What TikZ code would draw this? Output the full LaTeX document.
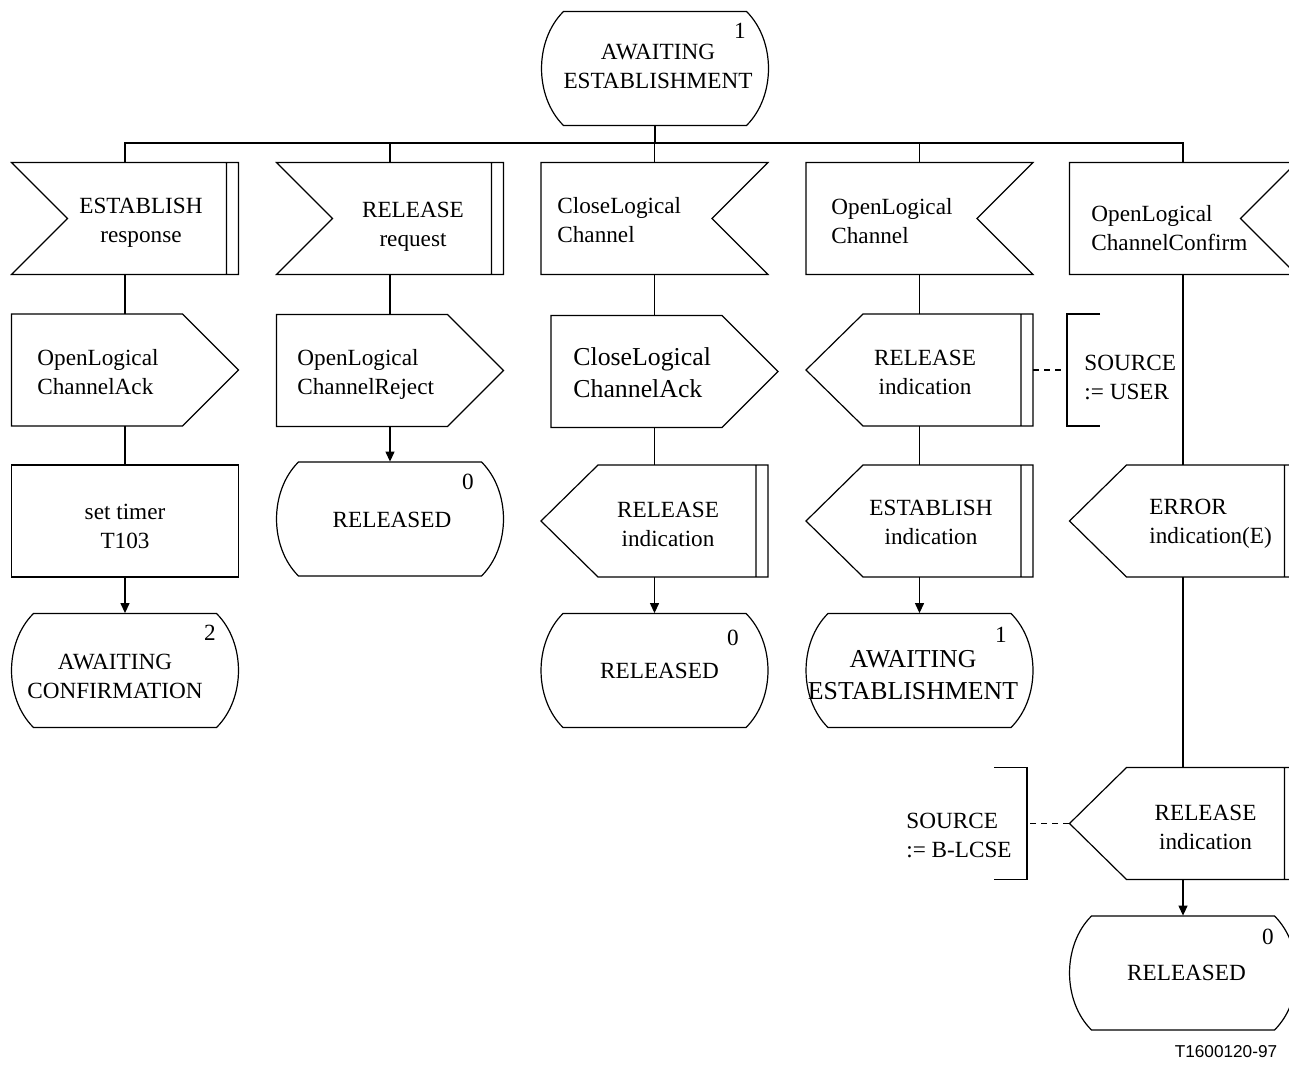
\documentclass[tikz,border=0pt]{standalone}
\usepackage{fontspec}
\setmainfont{Liberation Serif}
\newfontfamily\codefont{Liberation Sans}
\usepackage{tikz}
\usetikzlibrary{arrows.meta}

\begin{document}
\begin{tikzpicture}[x=0.5pt, y=-0.5pt,
        sdlline/.style={line width=0.6pt},
        symbol/.style={
            rectangle,
            inner sep=0pt,
            minimum width=113.5pt,
            minimum height=56pt
        },
        sdlstate/.style={symbol, minimum height=57pt,
            append after command={\pgfextra{
                \draw[sdlline, shift={(\tikzlastnode.center)}]
                    (-91.5,-57) -- (91.5,-57)
                    .. controls (120.8,-28) and (120.8,28) .. (91.5,57)
                    -- (-91.5,57)
                    .. controls (-120.8,28) and (-120.8,-28) .. (-91.5,-57) -- cycle;}}},
        inleft/.style={symbol,
            append after command={\pgfextra{
                \draw[sdlline, shift={(\tikzlastnode.center)}]
                    (-113.5,-56) -- (113.5,-56) -- (113.5,56) -- (-113.5,56)
                    -- (-57.5,0) -- cycle
                    (101.5,-56) -- (101.5,56);}}},
        inright/.style={symbol,
            append after command={\pgfextra{
                \draw[sdlline, shift={(\tikzlastnode.center)}]
                    (-113.5,-56) -- (113.5,-56) -- (57.5,0) -- (113.5,56)
                    -- (-113.5,56) -- cycle;}}},
        outright/.style={symbol,
            append after command={\pgfextra{
                \draw[sdlline, shift={(\tikzlastnode.center)}]
                    (-113.5,-56) -- (57.5,-56) -- (113.5,0) -- (57.5,56)
                    -- (-113.5,56) -- cycle;}}},
        indication/.style={symbol,
            append after command={\pgfextra{
                \draw[sdlline, shift={(\tikzlastnode.center)}]
                    (-56.5,-56) -- (113.5,-56) -- (113.5,56) -- (-56.5,56)
                    -- (-113.5,0) -- cycle
                    (101.5,-56) -- (101.5,56);}}},
        task/.style={symbol, draw, sdlline},
        noteright/.style={symbol, minimum width=16.5pt,
            append after command={\pgfextra{
                \draw[sdlline, shift={(\tikzlastnode.center)}]
                    (16.5,-56) -- (-16.5,-56) -- (-16.5,56) -- (16.5,56);}}},
        noteleft/.style={symbol, minimum width=16.5pt,
            append after command={\pgfextra{
                \draw[sdlline, shift={(\tikzlastnode.center)}]
                    (-16.5,-56) -- (16.5,-56) -- (16.5,56) -- (-16.5,56);}}},
        txt/.style={align=center, inner sep=0pt, font=\fontsize{11.6}{14.5}\selectfont},
        txtl/.style={txt, align=left, anchor=west},
        bigtxt/.style={font=\fontsize{12.9}{15.8}\selectfont},
        flow/.style={sdlline},
        arr/.style={sdlline, -{Triangle[length=5pt, width=4.5pt]}},
        dashline/.style={sdlline, dash pattern=on 3pt off 2.5pt}
    ]
    \useasboundingbox (0,0) rectangle (1289,1068);
    \clip (0,0) rectangle (1289,1068);

    % start state
    \node[sdlstate] (s0) at (655, 68.5) {};
    \node[txt] (t0) at (658, 66) {AWAITING\\ESTABLISHMENT};
    \node[txt] (n0) at (740, 31) {1};
    \coordinate (bus) at (655, 143);

    % inputs
    \node[inleft] (i1) at (125, 218.5) {};
    \node[inleft] (i2) at (390, 218.5) {};
    \node[inright] (i3) at (654.5, 218.5) {};
    \node[inright] (i4) at (919.5, 218.5) {};
    \node[inright] (i5) at (1183, 218.5) {};
    \node[txt] (ti1) at (141, 223) {ESTABLISH\\response};
    \node[txt] (ti2) at (413, 227) {RELEASE\\request};
    \node[txtl] (ti3) at (557, 220) {CloseLogical\\Channel};
    \node[txtl] (ti4) at (831, 221.5) {OpenLogical\\Channel};
    \node[txtl] (ti5) at (1091, 228) {OpenLogical\\ChannelConfirm};

    % second row
    \node[outright] (o1) at (125, 370) {};
    \node[outright] (o2) at (390, 370.5) {};
    \node[outright] (o3) at (664.5, 371.5) {};
    \node[indication] (x4) at (919.5, 370) {};
    \node[noteright] (c4) at (1083.5, 370) {};
    \node[txtl] (to1) at (37, 372) {OpenLogical\\ChannelAck};
    \node[txtl] (to2) at (297, 374) {OpenLogical\\ChannelReject};
    \node[txtl, bigtxt] (to3) at (573, 372.5) {CloseLogical\\ChannelAck};
    \node[txt] (tx4) at (925, 372.5) {RELEASE\\indication};
    \node[txtl] (tc4) at (1084, 377) {SOURCE\\:= USER};

    % third row
    \node[task] (k1) at (125, 521) {};
    \node[sdlstate] (r2) at (390, 519) {};
    \node[indication] (x3) at (654.5, 521) {};
    \node[indication] (y4) at (919.5, 521) {};
    \node[indication] (e5) at (1183, 521) {};
    \node[txt] (tk1) at (125, 526) {set timer\\T103};
    \node[txt] (tr2) at (392, 520) {RELEASED};
    \node[txt] (nr2) at (468, 482) {0};
    \node[txt] (tx3) at (668, 524) {RELEASE\\indication};
    \node[txt] (ty4) at (931, 522.5) {ESTABLISH\\indication};
    \node[txtl] (te5) at (1149, 523.5) {ERROR\\indication(E)};

    % fourth row
    \node[sdlstate] (r1) at (125, 670.5) {};
    \node[sdlstate] (r3) at (654.5, 670.5) {};
    \node[sdlstate] (r4) at (919.5, 670.5) {};
    \node[txt] (tr1) at (115, 676.5) {AWAITING\\CONFIRMATION};
    \node[txt] (nr1) at (210, 633) {2};
    \node[txt] (tr3) at (659.5, 671) {RELEASED};
    \node[txt] (nr3) at (733, 638) {0};
    \node[txt, bigtxt] (tr4) at (913, 675) {AWAITING\\ESTABLISHMENT};
    \node[txt] (nr4) at (1001, 635) {1};

    % right column, lower part
    \node[indication] (x5) at (1183, 823.5) {};
    \node[noteleft] (c5) at (1010.5, 823.5) {};
    \node[sdlstate] (r5) at (1183, 973) {};
    \node[txt] (tx5) at (1205.5, 827.5) {RELEASE\\indication};
    \node[txtl] (tc5) at (906, 835.5) {SOURCE\\:= B-LCSE};
    \node[txt] (tr5) at (1186.5, 973) {RELEASED};
    \node[txt] (nr5) at (1268, 937) {0};

    \node[inner sep=0pt, font=\codefont\fontsize{8.6}{10}\selectfont] (fig) at (1226, 1052) {T1600120-97};

    % connections
    \draw[flow] (s0.south) -- (bus);
    \foreach \n in {i1, i2, i3, i4, i5}
        \draw[flow] (bus) -| (\n.north);

    \draw[flow] (i1) -- (o1);
    \draw[flow] (o1) -- (k1);
    \draw[arr] (k1) -- (r1);

    \draw[flow] (i2) -- (o2);
    \draw[arr] (o2) -- (r2);

    \draw[flow] (i3.south) -- (i3.south |- o3.north);
    \draw[flow] (o3.south -| x3.north) -- (x3.north);
    \draw[arr] (x3) -- (r3);

    \draw[flow] (i4) -- (x4);
    \draw[flow] (x4) -- (y4);
    \draw[arr] (y4) -- (r4);
    \draw[dashline] (x4.east) -- (c4.west);

    \draw[flow] (i5) -- (e5);
    \draw[flow] (e5) -- (x5);
    \draw[arr] (x5) -- (r5);
    \draw[dashline] (x5.west) -- (c5.east);

\end{tikzpicture}
\end{document}
